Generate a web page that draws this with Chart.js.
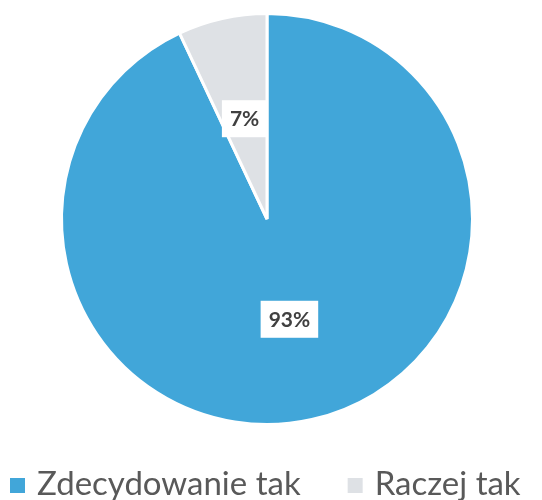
<!DOCTYPE html>
<html>
<head>
<meta charset="utf-8">
<script src="https://cdn.jsdelivr.net/npm/chart.js@4.4.1/dist/chart.umd.min.js"></script>
<style>
  html, body { margin: 0; padding: 0; background: #fff; overflow: hidden; }
  #wrap { width: 542px; height: 500px; }
</style>
</head>
<body>
<div id="wrap"><canvas id="pieChart"></canvas></div>
<script>
// data
const labels = ['Zdecydowanie tak', 'Raczej tak'];
const values = [93, 7];
const colors = ['#41a6d9', '#dee1e5'];

// white boxes with percentages at slice centre
const boxLabels = {
  id: 'boxLabels',
  afterDatasetsDraw(chart) {
    const ctx = chart.ctx;
    const meta = chart.getDatasetMeta(0);
    ctx.save();
    ctx.font = 'bold 21px Lato';
    ctx.textAlign = 'center';
    ctx.textBaseline = 'middle';
    meta.data.forEach((arc, i) => {
      const p = arc.tooltipPosition();
      const txt = values[i] + '%';
      const w = ctx.measureText(txt).width + 16;
      const h = 37;
      ctx.fillStyle = '#fff';
      ctx.fillRect(p.x - w / 2, p.y - h / 2, w, h);
      ctx.fillStyle = '#404040';
      ctx.fillText(txt, p.x, p.y + 1);
    });
    ctx.restore();
  }
};

// legend row under the pie (wide gaps, like the original)
const bottomLegend = {
  id: 'bottomLegend',
  afterDraw(chart) {
    const ctx = chart.ctx;
    const box = 15, gapText = 12, gapItem = 47;
    const baseline = 495;
    ctx.save();
    ctx.font = '33px Lato';
    ctx.textBaseline = 'alphabetic';
    let x = 10;
    labels.forEach((t, i) => {
      ctx.fillStyle = colors[i];
      ctx.fillRect(x, baseline - 17, box, box);
      ctx.fillStyle = '#595959';
      ctx.fillText(t, x + box + gapText, baseline);
      x += box + gapText + ctx.measureText(t).width + gapItem;
    });
    ctx.restore();
  }
};

new Chart(document.getElementById('pieChart').getContext('2d'), {
  type: 'pie',
  data: { labels: labels, datasets: [{ data: values, backgroundColor: colors, borderColor: '#fff', borderWidth: 3 }] },
  options: {
    responsive: true,
    maintainAspectRatio: false,
    animation: false,
    layout: { padding: { top: 12, left: 0, right: 8, bottom: 74 } },
    plugins: {
      legend: { display: false },
      tooltip: { enabled: false }
    }
  },
  plugins: [boxLabels, bottomLegend]
});
</script>
</body>
</html>
